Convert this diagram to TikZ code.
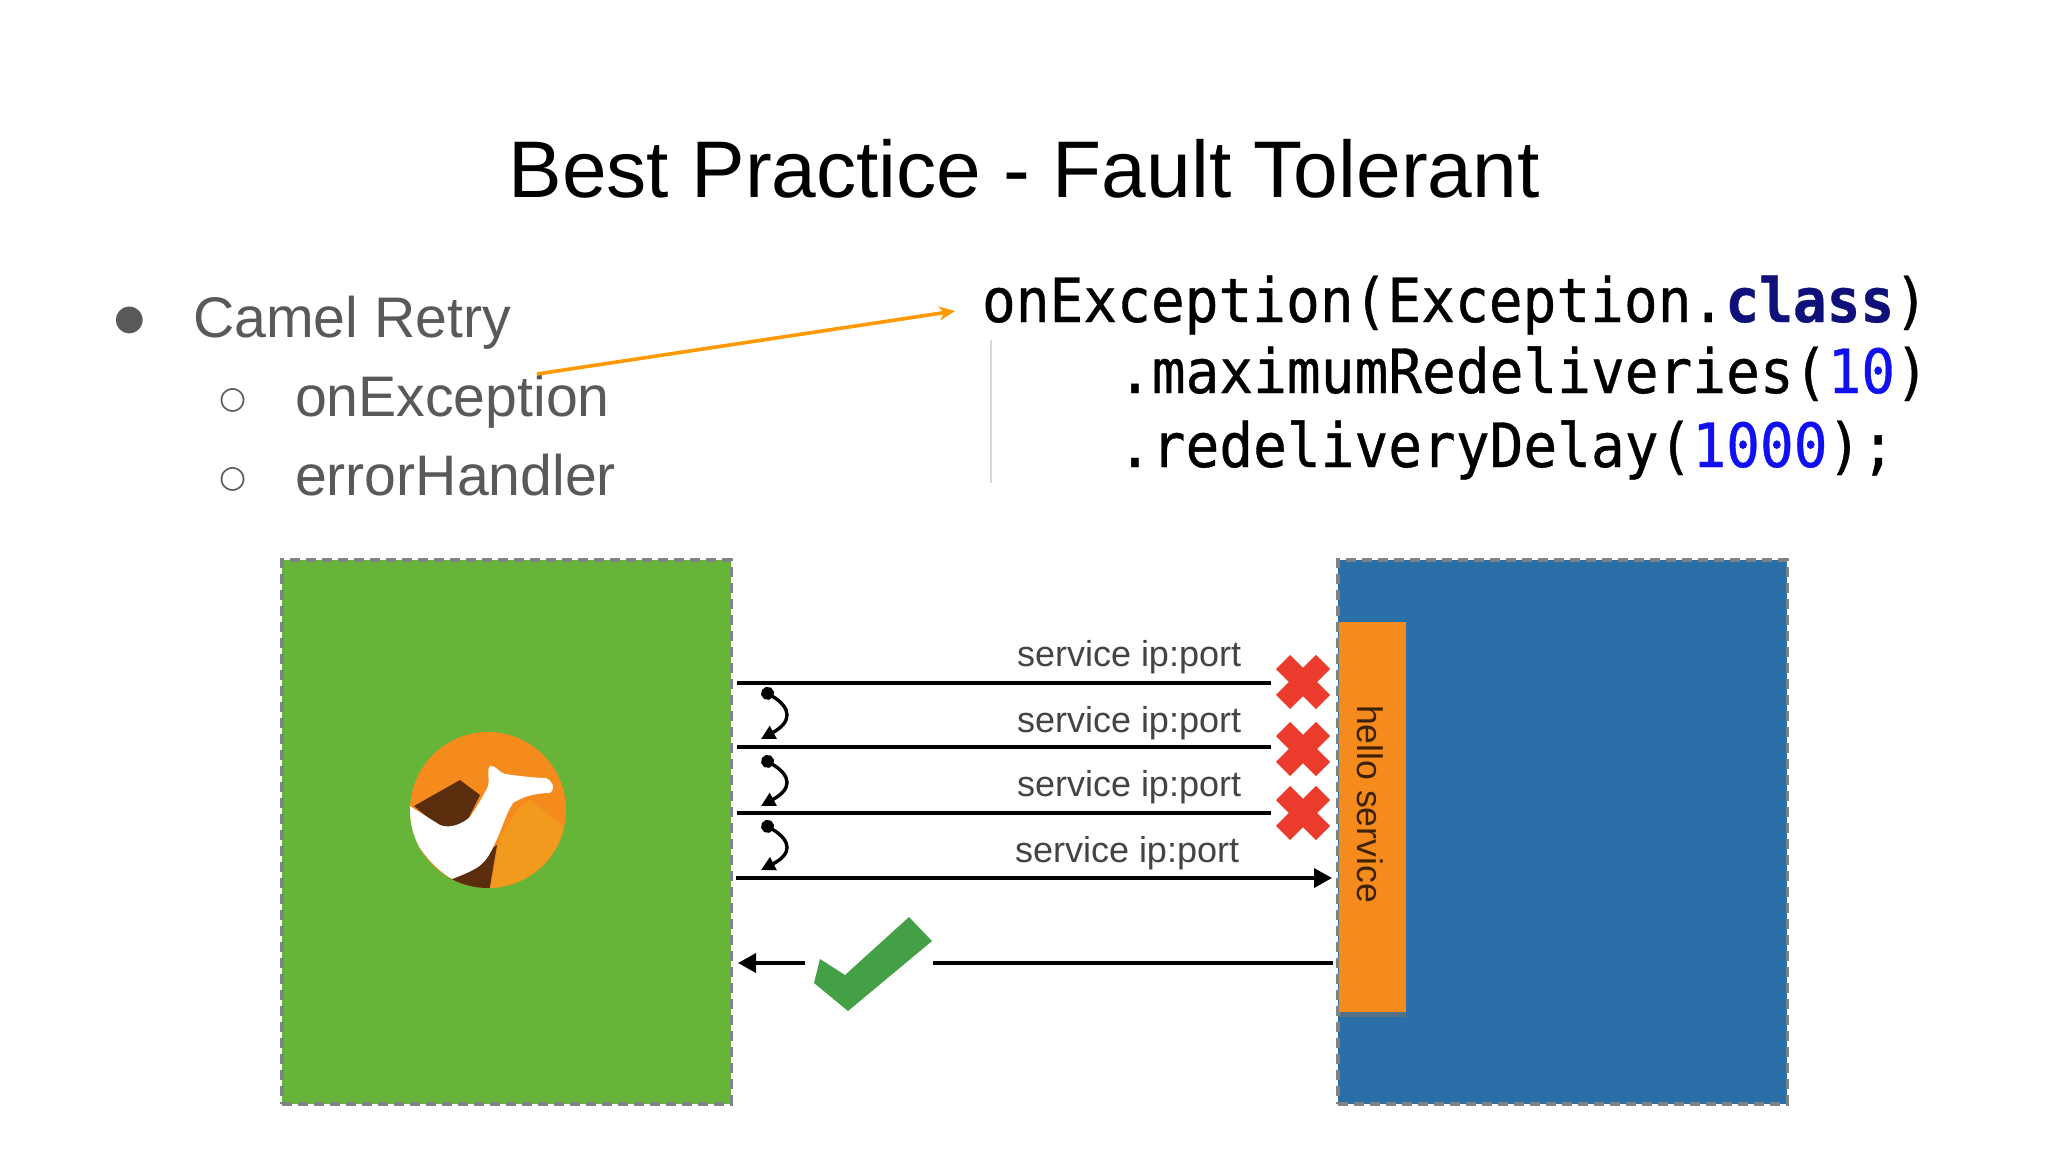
\documentclass[tikz,border=0pt]{standalone}
\usepackage{fontspec}
\setmainfont{Liberation Sans}
\newfontfamily\symfont{DejaVu Sans}
\newfontfamily\codefont[FakeStretch=0.92,FakeBold=0.6]{DejaVu Sans Mono}
\usetikzlibrary{arrows.meta}
\definecolor{bodygrey}{HTML}{595959}
\definecolor{boxgreen}{HTML}{66B539}
\definecolor{boxblue}{HTML}{2A6FA8}
\definecolor{boxorange}{HTML}{F58A1D}
\definecolor{duneorange}{HTML}{F29A1E}
\definecolor{camelbrown}{HTML}{5A2D0C}
\definecolor{dashgrey}{HTML}{7C8484}
\definecolor{crossred}{HTML}{EA3B2C}
\definecolor{tickgreen}{HTML}{43A047}
\definecolor{callout}{HTML}{FF9900}
\definecolor{codeblue}{HTML}{1010F0}
\definecolor{codenavy}{HTML}{10107A}
\definecolor{labelgrey}{HTML}{444444}
\tikzset{
  x=0.5pt,y=-0.5pt,
  txt/.style={inner sep=0pt,outer sep=0pt,anchor=base west},
  bodyone/.style={txt,text=bodygrey,font=\fontsize{28.6}{28.6}\selectfont},
  bullet/.style={inner sep=0pt,outer sep=0pt,anchor=center,text=bodygrey},
  code/.style={txt,text=black,font=\codefont\fontsize{30.5}{30.5}\selectfont},
  svc/.style={txt,text=labelgrey,font=\fontsize{18}{18}\selectfont},
  panel/.style={draw=dashgrey,line width=1.6pt,dash pattern=on 5pt off 3pt,inner sep=0pt,outer sep=0pt,anchor=north west,minimum width=224.6pt,minimum height=272pt},
  wire/.style={draw=black,line width=1.8pt},
  tipwire/.style={wire,-{Triangle[length=9pt,width=9.5pt]}},
  hop/.style={draw=black,line width=1.7pt,{Circle[length=6.5pt]}-{Triangle[length=7pt,width=7pt]}},
  crossmark/.style={draw=crossred,line width=10pt,line cap=butt},
}
\newcommand{\crossat}[2]{%
  \draw[crossmark] (#1-20,#2-20) -- (#1+20,#2+20);
  \draw[crossmark] (#1-20,#2+20) -- (#1+20,#2-20);}
\begin{document}
\begin{tikzpicture}
\useasboundingbox (0,0) rectangle (2048,1152);
\fill[white] (0,0) rectangle (2048,1152);
% title
\node[inner sep=0pt,anchor=base,font=\fontsize{40.15}{40.15}\selectfont,text=black] (title) at (1024,197) {Best Practice - Fault Tolerant};
% bullets
\node[bullet,font=\symfont\fontsize{17.5}{17.5}\selectfont] (b0) at (130,320) {●};
\node[bodyone] (camel) at (193,337) {Camel Retry};
\node[bullet,font=\symfont\fontsize{15.5}{15.5}\selectfont] (b1) at (233,400) {○};
\node[bodyone] (onex) at (295,416) {onException};
\node[bullet,font=\symfont\fontsize{15.5}{15.5}\selectfont] (b2) at (233,479) {○};
\node[bodyone] (errh) at (295,495) {errorHandler};
% code
\node[code] (c1) at (982,322) {onException(Exception.{\textcolor{codenavy}{\bfseries class}})};
\node[code] (c2) at (1118,393) {.maximumRedeliveries(\textcolor{codeblue}{10})};
\node[code] (c3) at (1118,467) {.redeliveryDelay(\textcolor{codeblue}{1000});};
\draw[draw=black!15,line width=1.2pt] (991,340) -- (991,483);
% callout
\coordinate (calloutA) at (537,374);
\coordinate (calloutB) at (955,311);
\draw[draw=callout,line width=1.8pt,-{Stealth[length=8pt,width=7pt]}] (calloutA) -- (calloutB);
% panels
\node[panel,fill=boxgreen] (client) at (282,560) {};
\node[panel,fill=boxblue] (server) at (1338,560) {};
\fill[black!55,opacity=.6] (1340,1010) rectangle (1406,1017);
\node[inner sep=0pt,outer sep=0pt,anchor=north west,fill=boxorange,minimum width=33.5pt,minimum height=195pt] (svc) at (1339,622) {};
\node[inner sep=0pt,rotate=-90,anchor=center,text=black!75!boxorange,font=\fontsize{17.8}{17.8}\selectfont] (svclabel) at (1370,804) {hello service};
% labels
\node[svc] (s1) at (1017,666) {service ip:port};
\node[svc] (s2) at (1017,732) {service ip:port};
\node[svc] (s3) at (1017,796) {service ip:port};
\node[svc] (s4) at (1015,862) {service ip:port};
% wires
\coordinate (w1a) at (737,683); \coordinate (w1b) at (1271,683);
\coordinate (w2a) at (737,747); \coordinate (w2b) at (1271,747);
\coordinate (w3a) at (737,813); \coordinate (w3b) at (1271,813);
\coordinate (w4a) at (736,878); \coordinate (w4b) at (1332,878);
\coordinate (r1a) at (1333,963); \coordinate (r1b) at (933,963);
\coordinate (r2a) at (805,963); \coordinate (r2b) at (738,963);
\draw[wire] (w1a) -- (w1b);
\draw[wire] (w2a) -- (w2b);
\draw[wire] (w3a) -- (w3b);
\draw[tipwire] (w4a) -- (w4b);
\draw[wire] (r1a) -- (r1b);
\draw[tipwire] (r2a) -- (r2b);
% hops
\foreach \n/\ya/\yb in {a/690/739,b/758/806,c/823/870}{
  \coordinate (h\n1) at (762,\ya);
  \coordinate (h\n2) at (761,\yb);
}
\draw[hop] (ha1) .. controls (792,708) and (792,722) .. (ha2);
\draw[hop] (hb1) .. controls (792,776) and (792,789) .. (hb2);
\draw[hop] (hc1) .. controls (792,841) and (792,854) .. (hc2);
% crosses
\crossat{1303}{682}
\crossat{1303}{749}
\crossat{1303}{813}
% tick
\fill[tickgreen] (814,983) -- (820,959) -- (845,975) -- (909,917) -- (932,941) -- (848,1011) -- cycle;
% logo
\begin{scope}
\clip (488,810) circle (78);
\fill[boxorange] (405,728) rectangle (570,892);
\fill[duneorange] (490,892) -- (500,837) .. controls (510,820) and (520,805) .. (530,800) -- (570,832) -- (570,892) -- cycle;
\fill[camelbrown] (414,806) -- (460,780) -- (480,795) -- (465,825) -- (452,829) -- (438,826) -- cycle;
\fill[camelbrown] (497,845) -- (489,892) -- (450,892) -- (450,875) -- cycle;
\fill[white] (405,803) -- (440,825) .. controls (450,829) and (462,824) .. (470,817)
  .. controls (478,805) and (484,795) .. (488,786)
  .. controls (490,778) and (486,770) .. (490,766)
  .. controls (496,765) and (498,772) .. (505,774)
  .. controls (520,776) and (535,778) .. (546,778)
  .. controls (554,782) and (555,790) .. (550,793)
  .. controls (535,793) and (522,797) .. (513,803)
  .. controls (505,815) and (502,830) .. (495,843)
  .. controls (490,855) and (485,862) .. (478,867)
  .. controls (470,872) and (460,876) .. (452,879)
  .. controls (440,872) and (425,858) .. (415,840)
  .. controls (408,825) and (405,815) .. (405,803) -- cycle;
\end{scope}
\end{tikzpicture}
\end{document}
